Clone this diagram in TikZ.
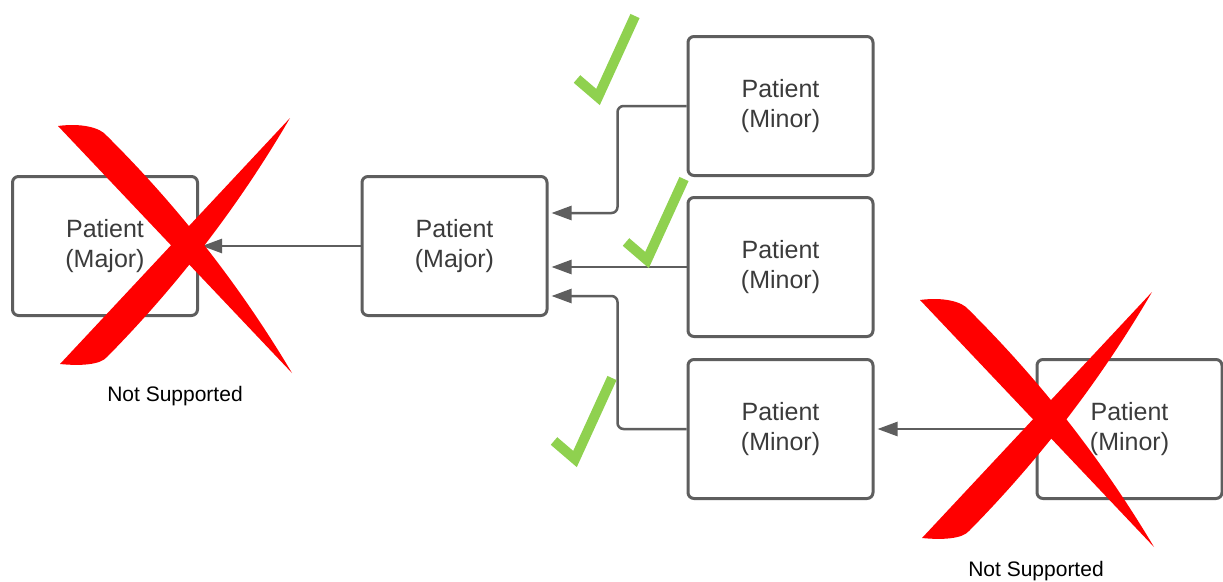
\documentclass[tikz,border=0pt]{standalone}
\usepackage{fontspec}
\setmainfont{Liberation Sans}
\usetikzlibrary{arrows.meta,calc}
\definecolor{linegray}{HTML}{5E5E5E}
\definecolor{textgray}{HTML}{3B3B3B}
\definecolor{checkgreen}{HTML}{8FD14F}
\definecolor{xred}{HTML}{FF0000}
\begin{document}
\begin{tikzpicture}[x=1pt,y=-1pt,
  box/.style={draw=linegray, line width=3pt, rounded corners=6pt,
    minimum width=185pt, minimum height=139pt, inner sep=0pt,
    align=center, text=textgray, font=\fontsize{25}{30}\selectfont},
  conn/.style={draw=linegray, line width=2.5pt, rounded corners=6pt,
    -{Triangle[length=20pt,width=14pt]}, shorten >=3pt},
  note/.style={font=\fontsize{21}{25}\selectfont, anchor=base, inner sep=0pt, text=black},
  checkmark/.pic={\draw[checkgreen, line width=10pt, line cap=butt, line join=miter]
      (-21,-18) -- (0,0) -- (37,-81);},
  crossmark/.pic={
    \fill[xred] (58,126) .. controls (80,123) and (100,127) .. (107,136)
      .. controls (178.7,207.2) and (240.3,286.2) .. (292,373) -- cycle;
    \fill[xred] (290,118) .. controls (239,205.4) and (178,285) .. (107,357)
      .. controls (100,365) and (80,366) .. (60,364) -- cycle;}
]
\fill[white] (0,0) rectangle (1223,581);
\useasboundingbox (0,0) rectangle (1223,581);

\node[box] (left) at (105,246) {Patient\\(Major)};
\node[box] (maj) at (454.5,246) {Patient\\(Major)};
\node[box] (m1) at (780.5,106) {Patient\\(Minor)};
\node[box] (m2) at (780.5,267) {Patient\\(Minor)};
\node[box] (m3) at (780.5,429) {Patient\\(Minor)};
\node[box] (m4) at (1129.5,429) {Patient\\(Minor)};

\draw[conn] (maj.west) -- (left.east);
\draw[conn] (m1.west) -- ++(-69,0) |- ($(maj.east)+(0,-33)$);
\draw[conn] (m2.west) -- (maj.east |- m2.west);
\draw[conn] (m3.west) -- ++(-69,0) |- ($(maj.east)+(0,50)$);
\draw[conn] (m4.west) -- (m3.east);

\pic at (598,97) {checkmark};
\pic at (647,260) {checkmark};
\pic at (575,459) {checkmark};

\pic at (0,0) {crossmark};
\pic at (862,174) {crossmark};

\node[note] (ns1) at (175,401.5) {Not Supported};
\node[note] (ns2) at (1036,576) {Not Supported};
\end{tikzpicture}
\end{document}
